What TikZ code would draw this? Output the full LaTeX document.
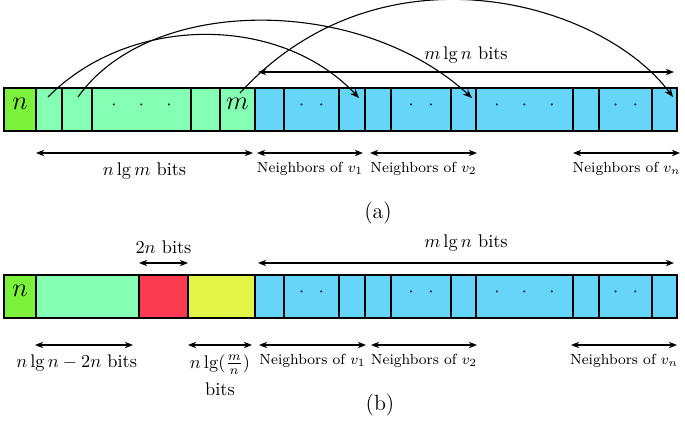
\documentclass[tikz,border=0pt]{standalone}
\usepackage{amsmath,amssymb}
\usepackage{tikz}
\usetikzlibrary{arrows.meta,positioning,fit,calc}
\definecolor{headgreen}{HTML}{7CF23C}
\definecolor{mint}{HTML}{84FFB4}
\definecolor{sky}{HTML}{66D6F8}
\definecolor{cellred}{HTML}{F93C50}
\definecolor{cellyellow}{HTML}{E0F545}
\newcommand{\pairdots}{$\cdot\hspace{8pt}\cdot$}
\newcommand{\tripledots}{$\cdot\hspace{10pt}\cdot\hspace{10pt}\cdot$}

\begin{document}
\begin{tikzpicture}[x=0.0192cm, y=-0.0192cm,
    cell/.style={draw, semithick, inner sep=0pt, outer sep=0pt},
    span/.style={{Stealth[length=4.5pt,width=3.5pt]}-{Stealth[length=4.5pt,width=3.5pt]}, semithick},
    link/.style={-{Stealth[length=5pt,width=4pt]}, semithick},
    lbl/.style={font=\footnotesize},
]
\useasboundingbox (0,0) rectangle (685,420);

% (a)
\node[cell, fill=headgreen, font=\Large, fit={(4,88) (36,131)}] (a1) {$n$};
\foreach \x/\y/\t [count=\i from 2] in {36/62/{},62/92/{},92/191/{\tripledots},191/220/{},220/255/{\Large $m$}}
  \node[cell, fill=mint, fit={(\x,88) (\y,131)}] (a\i) {\t};
\foreach \x/\y/\t [count=\i from 7] in {255/284/{},284/339/{\pairdots},339/365/{},365/391/{},391/451/{\pairdots},451/476/{},476/573/{\tripledots},573/599/{},599/652/{\pairdots},652/677/{}}
  \node[cell, fill=sky, fit={(\x,88) (\y,131)}] (a\i) {\t};

\draw[link] ($(a2.north)+(-1,9)$) .. controls (130,14) and (280,14) .. ($(a9.north)+(7,10)$);
\draw[link] ($(a3.north)+(1,9)$) .. controls (150,-5) and (360,-5) .. ($(a12.north)+(8.5,10)$);
\draw[link] ($(a6.north)+(2.5,5)$) .. controls (380,-60) and (600,0) .. ($(a16.north)+(8.5,9)$);

\draw[span] ($(a7.north west)+(3,-16)$) -- node[above=1.5pt] {$m\lg n$ bits} ($(a16.north east)+(-3,-16)$);
\draw[span] ($(a2.south west)+(0,22)$) -- node[below=1.5pt] {$n\lg m$ bits} ($(a6.south east)+(-2,22)$);
\draw[span] ($(a7.south west)+(2,22)$) -- node[lbl, below=1.5pt] {Neighbors of $v_1$} ($(a9.south east)+(-2,22)$);
\draw[span] ($(a10.south west)+(5,22)$) -- node[lbl, below=1.5pt] {Neighbors of $v_2$} ($(a12.south east)+(1,22)$);
\draw[span] ($(a14.south west)+(0,22)$) -- node[lbl, below=1.5pt] {Neighbors of $v_n$} ($(a16.south east)+(3,22)$);

\node[font=\large] (capa) at (378,213) {(a)};

% (b)
\node[cell, fill=headgreen, font=\Large, fit={(4,275) (36,318)}] (b1) {$n$};
\node[cell, fill=mint, fit={(36,275) (139,318)}] (b2) {};
\node[cell, fill=cellred, fit={(139,275) (188,318)}] (b3) {};
\node[cell, fill=cellyellow, fit={(188,275) (255,318)}] (b4) {};
\foreach \x/\y/\t [count=\i from 5] in {255/284/{},284/339/{\pairdots},339/365/{},365/391/{},391/451/{\pairdots},451/476/{},476/573/{\tripledots},573/599/{},599/652/{\pairdots},652/677/{}}
  \node[cell, fill=sky, fit={(\x,275) (\y,318)}] (b\i) {\t};

\draw[span] ($(b3.north west)+(0,-12)$) -- node[above=1.5pt] {$2n$ bits} ($(b3.north east)+(0,-12)$);
\draw[span] ($(b5.north west)+(3,-12)$) -- node[above=3pt] {$m\lg n$ bits} ($(b14.north east)+(-3,-12)$);
\draw[span] ($(b2.south west)+(-1,27)$) -- node[below=1.5pt, xshift=-4pt] {$n\lg n-2n$ bits} ($(b2.south east)+(-6,27)$);
\draw[span] ($(b4.south west)+(0,27)$) -- node[below=1.5pt, align=center] {$n\lg(\frac{m}{n})$\\[3pt]bits} ($(b4.south east)+(-3,27)$);
\draw[span] ($(b5.south west)+(4,27)$) -- node[lbl, below=1.5pt] {Neighbors of $v_1$} ($(b7.south east)+(1,27)$);
\draw[span] ($(b8.south west)+(6,27)$) -- node[lbl, below=1.5pt] {Neighbors of $v_2$} ($(b10.south east)+(1,27)$);
\draw[span] ($(b12.south west)+(-2,27)$) -- node[lbl, below=1.5pt] {Neighbors of $v_n$} ($(b14.south east)+(0,27)$);

\node[font=\large] (capb) at (380,405) {(b)};
\end{tikzpicture}
\end{document}
